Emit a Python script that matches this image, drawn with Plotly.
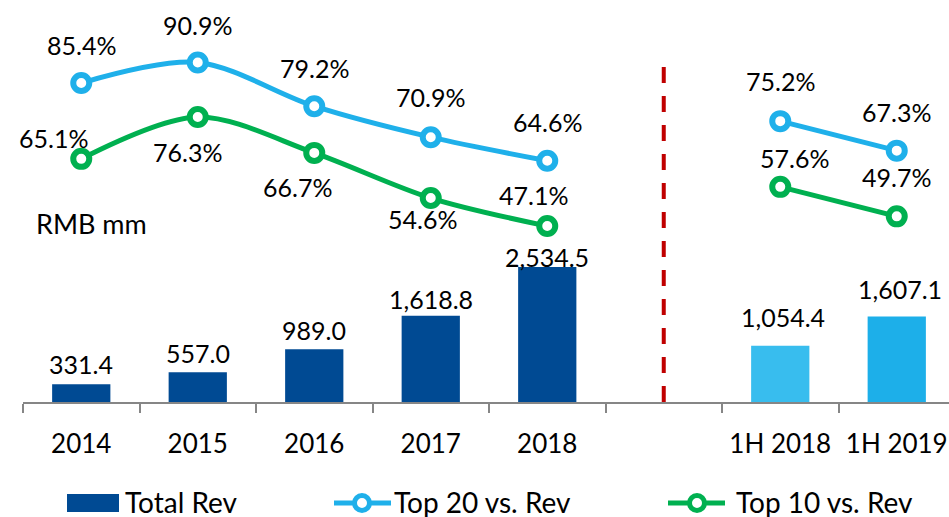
import plotly.graph_objects as go

# ---------------- data ----------------
categories = ["2014", "2015", "2016", "2017", "2018", " ", "1H 2018", "1H 2019"]
total_rev = [331.4, 557.0, 989.0, 1618.8, 2534.5, None, 1054.4, 1607.1]
top20_pct = [85.4, 90.9, 79.2, 70.9, 64.6, None, 75.2, 67.3]
top10_pct = [65.1, 76.3, 66.7, 54.6, 47.1, None, 57.6, 49.7]
series_names = ["Total Rev", "Top 20 vs. Rev", "Top 10 vs. Rev"]
unit_label = "RMB mm"

# ---------------- style ----------------
W, H = 949, 517
ML, MR, MT, MB = 23, 0, 12, 115
PW, PH = W - ML - MR, H - MT - MB
FONT = "Lato"
C_BAR = "#004A93"
C_BAR_1H = ["#38BDEE", "#1DAFE9"]
C_BLUE = "#1FB0EA"
C_GREEN = "#00B050"
C_RED = "#C00000"
C_AXIS = "#868686"

bar_colors = [C_BAR] * 6 + C_BAR_1H

# label nudges (pixels): (xshift, yshift)
bar_label_shift = [(0, 20), (0, 19), (0, 19), (0, 17), (0, 10), None, (3, 29), (3, 27)]
top20_label_shift = [(0, 38), (0, 37), (0, 38), (0, 40), (0, 39), None, (0, 40), (0, 39)]
top10_label_shift = [(-28, 21), (-10, -35), (-17, -34), (-8, -21), (-14, 31), None, (14, 29), (0, 39)]


def px_x(px):
    return (px - ML) / PW


def px_y(py):
    return (H - MB - py) / PH


fig = go.Figure()

fig.add_trace(go.Bar(
    x=categories, y=total_rev, name=series_names[0],
    marker=dict(color=bar_colors, line=dict(width=0)),
    width=0.5, yaxis="y", showlegend=False, hoverinfo="skip",
))

for vals, color, name in [(top20_pct, C_BLUE, series_names[1]),
                          (top10_pct, C_GREEN, series_names[2])]:
    fig.add_trace(go.Scatter(
        x=categories, y=vals, name=name, yaxis="y2",
        mode="lines+markers", connectgaps=False,
        line=dict(color=color, width=5, shape="spline", smoothing=0.9),
        marker=dict(symbol="circle", size=16, color="white",
                    line=dict(color=color, width=6)),
        showlegend=False, hoverinfo="skip",
    ))

annotations = []
lab_font = dict(family=FONT, size=25, color="black")

for i, (v, sh) in enumerate(zip(total_rev, bar_label_shift)):
    if v is None:
        continue
    annotations.append(dict(
        x=i, y=v, xref="x", yref="y", text=f"{v:,.1f}", showarrow=False,
        xanchor="center", yanchor="middle", xshift=sh[0], yshift=sh[1],
        font=lab_font))

for vals, shifts in [(top20_pct, top20_label_shift), (top10_pct, top10_label_shift)]:
    for i, (v, sh) in enumerate(zip(vals, shifts)):
        if v is None:
            continue
        annotations.append(dict(
            x=i, y=v, xref="x", yref="y2", text=f"{v:.1f}%", showarrow=False,
            xanchor="center", yanchor="middle", xshift=sh[0], yshift=sh[1],
            font=lab_font))

annotations.append(dict(
    x=px_x(91), y=px_y(223), xref="paper", yref="paper", text=unit_label,
    showarrow=False, xanchor="center", yanchor="middle",
    font=dict(family=FONT, size=27, color="black")))

# ---------------- legend (drawn) ----------------
leg_font = dict(family=FONT, size=28, color="black")
leg_y = 502
shapes = []
shapes.append(dict(type="rect", xref="paper", yref="paper",
                   x0=px_x(67), x1=px_x(119), y0=px_y(512), y1=px_y(494),
                   fillcolor=C_BAR, line=dict(width=0)))
annotations.append(dict(x=px_x(123), y=px_y(leg_y), xref="paper", yref="paper",
                        text=series_names[0], showarrow=False, xanchor="left",
                        yanchor="middle", font=leg_font))
for x0, x1, xc, color, name, tx in [(334, 391, 362, C_BLUE, series_names[1], 392),
                                    (668, 725, 697, C_GREEN, series_names[2], 734)]:
    shapes.append(dict(type="line", xref="paper", yref="paper",
                       x0=px_x(x0), x1=px_x(x1), y0=px_y(503), y1=px_y(503),
                       line=dict(color=color, width=5)))
    shapes.append(dict(type="circle", xref="paper", yref="paper",
                       x0=px_x(xc - 7.5), x1=px_x(xc + 7.5),
                       y0=px_y(503 + 7.5), y1=px_y(503 - 7.5),
                       fillcolor="white", line=dict(color=color, width=5)))
    annotations.append(dict(x=px_x(tx), y=px_y(leg_y), xref="paper", yref="paper",
                            text=name, showarrow=False, xanchor="left",
                            yanchor="middle", font=leg_font))

# red dashed divider at the blank category
shapes.append(dict(type="line", xref="x", yref="paper",
                   x0=categories.index(" "), x1=categories.index(" "),
                   y0=0.0, y1=px_y(64),
                   line=dict(color=C_RED, width=4, dash="16px,13px")))

fig.update_layout(
    width=W, height=H,
    margin=dict(l=ML, r=MR, t=MT, b=MB, autoexpand=False),
    paper_bgcolor="white", plot_bgcolor="white",
    showlegend=False,
    bargap=0.5,
    xaxis=dict(
        type="category", categoryorder="array", categoryarray=categories,
        range=[-0.5, -0.5 + PW / 116.5], automargin=False,
        showline=True, linecolor=C_AXIS, linewidth=2,
        ticks="outside", tickson="boundaries", ticklen=9, tickwidth=2,
        tickcolor=C_AXIS, showgrid=False, zeroline=False,
        tickfont=dict(family=FONT, size=26, color="black"),
        ticklabelstandoff=18,
    ),
    yaxis=dict(range=[0, PH / 0.05327], visible=False, showgrid=False, fixedrange=True),
    yaxis2=dict(range=[0, PH / 3.735], overlaying="y", visible=False, showgrid=False),
    annotations=annotations,
    shapes=shapes,
)

fig.write_html(
    "out.html",
    config={"displayModeBar": False, "staticPlot": True},
    post_script="document.body.style.margin='0';document.body.style.overflow='hidden';",
)
